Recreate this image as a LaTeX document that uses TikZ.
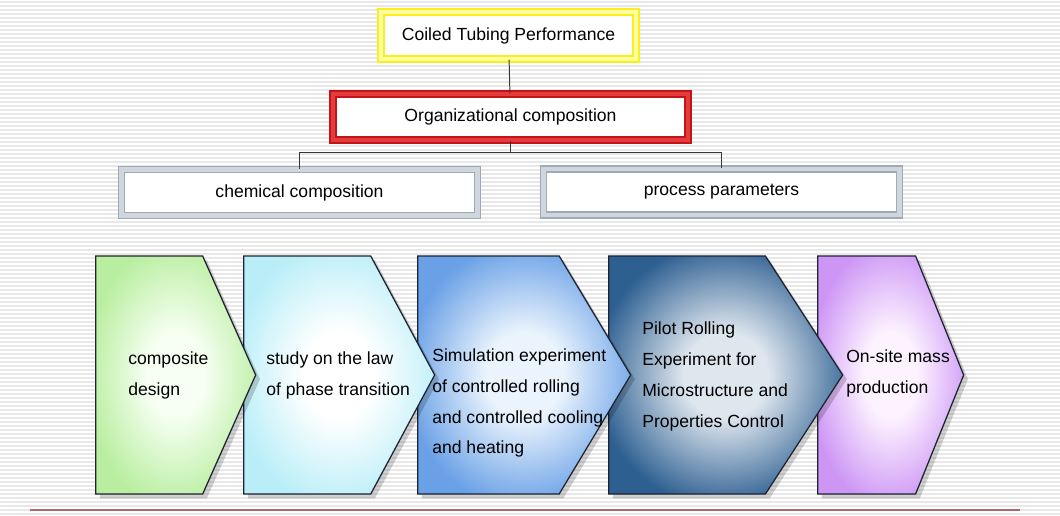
\documentclass[tikz,border=0pt]{standalone}
\usepackage{fontspec}
\setmainfont{Liberation Sans}
\usepackage{xcolor}
\usetikzlibrary{shapes.symbols, positioning, shadows}
\definecolor{glowyellow}{RGB}{250,240,30}
\definecolor{framered}{RGB}{195,20,25}
\definecolor{framegray}{RGB}{160,170,182}
\definecolor{linkgray}{RGB}{55,55,55}
\definecolor{chevline}{RGB}{30,35,50}
\definecolor{stripegray}{RGB}{232,232,232}
\definecolor{footerrose}{RGB}{175,105,115}
\colorlet{vigin}{white}
\colorlet{vigout}{gray}
\pgfdeclareradialshading[vigin,vigout]{vignette}{\pgfpoint{0bp}{0bp}}{color(0bp)=(vigin); color(9bp)=(vigin); color(28bp)=(vigout); color(50bp)=(vigout)}
\tikzset{vig/.style 2 args={/utils/exec={\colorlet{vigin}{#1}\colorlet{vigout}{#2}}, shading=vignette}}
\tikzstyle{tierbox} = [rectangle, text centered, fill=white, line width=1pt, double distance=3.2pt, font=\fontsize{12.5}{15}\selectfont]
\tikzstyle{chev} = [signal, signal to=east, signal from=nowhere, draw=chevline, line width=0.9pt, anchor=west, minimum height=5.95cm, drop shadow={shadow xshift=3pt, shadow yshift=-3pt, opacity=0.18, fill=black}]
\tikzstyle{chevtext} = [inner sep=0pt, anchor=west, align=left, font=\fontsize{12.5}{22}\selectfont]
\tikzstyle{link} = [draw=linkgray, line width=0.7pt]

\begin{document}
\begin{tikzpicture}[x=0.025cm, y=-0.025cm]
    \useasboundingbox (0,0) rectangle (1060,515);
    % striped background
    \fill[white] (0,0) rectangle (1060,515);
    \foreach \y in {2,6,...,514}
        \draw[stripegray, line width=1.3pt] (0,\y) -- (1060,\y);

    % hierarchy
    \node[tierbox, draw=glowyellow, double={rgb,255:red,255;green,255;blue,160}, minimum width=6.375cm, minimum height=1.175cm] (perf) at (508.5,35.5) {Coiled Tubing Performance};
    \node[tierbox, draw=framered, double={rgb,255:red,228;green,60;blue,60}, minimum width=8.875cm, minimum height=1.15cm] (org) at (510.5,117) {Organizational composition};
    \node[tierbox, draw=framegray, double={rgb,255:red,208;green,214;blue,222}, minimum width=8.9cm, minimum height=1.15cm] (chem) at (299.5,192.5) {chemical composition};
    \node[tierbox, draw=framegray, double={rgb,255:red,208;green,214;blue,222}, minimum width=8.9cm, minimum height=1.15cm] (proc) at (721.5,192) {process parameters};

    \coordinate[below=0.3cm of org.south] (split);
    \draw[link] (perf) -- (org);
    \draw[link] (org.south) -- (split) -| (chem.north);
    \draw[link] (split) -| (proc.north);

    % process chevrons (back to front)
    \node[chev, minimum width=3.65cm, signal pointer angle=136, vig={rgb,255:red,253;green,243;blue,255}{rgb,255:red,205;green,150;blue,245}] (c5) at (817,375) {};
    \node[chev, minimum width=5.85cm, signal pointer angle=114, vig={rgb,255:red,222;green,230;blue,238}{rgb,255:red,45;green,95;blue,145}] (c4) at (608,375) {};
    \node[chev, minimum width=5.325cm, signal pointer angle=118, vig={rgb,255:red,235;green,244;blue,253}{rgb,255:red,105;green,160;blue,230}] (c3) at (417,375) {};
    \node[chev, minimum width=4.775cm, signal pointer angle=123.5, vig={white}{rgb,255:red,185;green,238;blue,248}] (c2) at (243,375) {};
    \node[chev, minimum width=4cm, signal pointer angle=132, vig={rgb,255:red,246;green,255;blue,242}{rgb,255:red,185;green,238;blue,160}] (c1) at (95,375) {};

    \node[chevtext, right=0.825cm of c1.west] (t1) {composite\\design};
    \node[chevtext, right=0.575cm of c2.west] (t2) {study on the law\\of phase transition};
    \node[chevtext, right=0.375cm of c3.west, yshift=-0.7cm] (t3) {Simulation experiment\\of controlled rolling\\and controlled cooling\\and heating};
    \node[chevtext, right=0.85cm of c4.west, yshift=-0.03cm] (t4) {Pilot Rolling\\Experiment for\\Microstructure and\\Properties Control};
    \node[chevtext, right=0.725cm of c5.west, yshift=0.03cm] (t5) {On-site mass\\production};

    % footer rule
    \draw[footerrose, line width=1.2pt] (30,510) -- (1020,510);
\end{tikzpicture}
\end{document}
